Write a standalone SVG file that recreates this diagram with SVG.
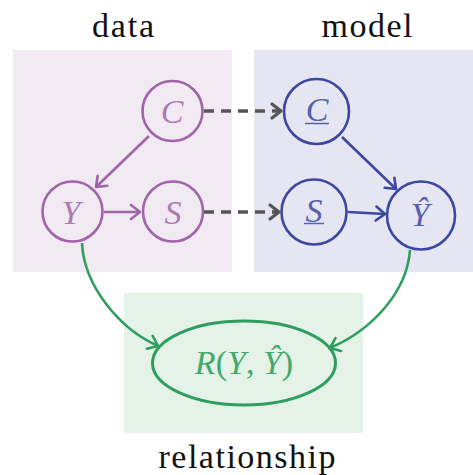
<svg xmlns="http://www.w3.org/2000/svg" width="473" height="475" viewBox="0 0 473 475">
<style>
.title{font-family:"Liberation Serif",serif;font-size:34px;fill:#111;text-anchor:middle}
.math{font-family:"Liberation Serif",serif;font-style:italic;font-size:34px;text-anchor:middle;dominant-baseline:central}
.up{font-style:normal}
.dn{fill:none;stroke:#A064A9;stroke-width:2.6}
.mn{fill:none;stroke:#3B47A0;stroke-width:2.6}
.dt{fill:#AD7AB4}
.mt{fill:#5560AE}
.de{stroke:#A064A9;stroke-width:2.6;fill:none}
.me{stroke:#3B47A0;stroke-width:2.6;fill:none}
.ge{stroke:#2E9E5E;stroke-width:2.6;fill:none}
.dash{stroke:#555;stroke-width:3.5;fill:none;stroke-dasharray:10 7}
</style>
<defs>
<marker id="ap" markerUnits="userSpaceOnUse" markerWidth="20" markerHeight="20" refX="0" refY="0" viewBox="-12 -10 14 20" orient="auto"><path d="M-9,-7 L0,0 L-9,7" fill="none" stroke="#A064A9" stroke-width="2.6" stroke-linejoin="round" stroke-linecap="round"/></marker>
<marker id="am" markerUnits="userSpaceOnUse" markerWidth="20" markerHeight="20" refX="0" refY="0" viewBox="-12 -10 14 20" orient="auto"><path d="M-9,-7 L0,0 L-9,7" fill="none" stroke="#3B47A0" stroke-width="2.6" stroke-linejoin="round" stroke-linecap="round"/></marker>
<marker id="ag" markerUnits="userSpaceOnUse" markerWidth="20" markerHeight="20" refX="0" refY="0" viewBox="-12 -10 14 20" orient="auto"><path d="M-9,-7 L0,0 L-9,7" fill="none" stroke="#2E9E5E" stroke-width="2.6" stroke-linejoin="round" stroke-linecap="round"/></marker>
<marker id="ak" markerUnits="userSpaceOnUse" markerWidth="20" markerHeight="20" refX="0" refY="0" viewBox="-12 -10 14 20" orient="auto"><path d="M-9,-7 L0,0 L-9,7" fill="none" stroke="#555" stroke-width="3.2" stroke-linejoin="round" stroke-linecap="round"/></marker>
</defs>
<rect width="473" height="475" fill="#fff"/>
<g id="panels">
<rect x="13" y="50" width="219" height="222" fill="#F2EAF3"/>
<rect x="254" y="50" width="219" height="222" fill="#E6E6F3"/>
<rect x="124" y="293" width="239" height="140" fill="#E4F2E8"/>
</g>
<g id="titles">
<text class="title" x="123" y="37" textLength="62" lengthAdjust="spacing">data</text>
<text class="title" x="367" y="37" textLength="91" lengthAdjust="spacing">model</text>
<text class="title" x="247" y="468" textLength="177" lengthAdjust="spacing">relationship</text>
</g>
<g id="connectors">
<line class="de" x1="149" y1="136" x2="96" y2="187" marker-end="url(#ap)"/>
<line class="de" x1="104" y1="212" x2="140" y2="212" marker-end="url(#ap)"/>
<line class="dash" x1="204" y1="111" x2="281" y2="111" marker-end="url(#ak)"/>
<line class="dash" x1="204" y1="212" x2="279" y2="212" marker-end="url(#ak)"/>
<line class="me" x1="342" y1="137" x2="396" y2="189" marker-end="url(#am)"/>
<line class="me" x1="348" y1="212" x2="385" y2="214" marker-end="url(#am)"/>
<path class="ge" d="M82,243 C84,285 118,328 158,346" marker-end="url(#ag)"/>
<path class="ge" d="M410,250 C407,292 372,330 330,348" marker-end="url(#ag)"/>
</g>
<g id="node-C">
<circle class="dn" cx="172.5" cy="111" r="30"/>
<text class="math dt" x="172" y="111">C</text>
</g>
<g id="node-Y">
<circle class="dn" cx="72.5" cy="211.5" r="30"/>
<text class="math dt" x="71" y="212">Y</text>
</g>
<g id="node-S">
<circle class="dn" cx="173" cy="211.5" r="30"/>
<text class="math dt" x="173" y="212">S</text>
</g>
<g id="node-C-model">
<circle class="mn" cx="316.5" cy="111.5" r="32.5"/>
<text class="math mt" x="317" y="109">C</text>
<line x1="305" y1="123.5" x2="329" y2="123.5" stroke="#5560AE" stroke-width="1.5"/>
</g>
<g id="node-S-model">
<circle class="mn" cx="314" cy="212" r="32.5"/>
<text class="math mt" x="314" y="210">S</text>
<line x1="304" y1="223.5" x2="324" y2="223.5" stroke="#5560AE" stroke-width="1.5"/>
</g>
<g id="node-Yhat">
<circle class="mn" cx="421" cy="215.5" r="34"/>
<text class="math mt" x="420" y="214">Ŷ</text>
</g>
<g id="node-R">
<ellipse cx="244" cy="363" rx="91.5" ry="42" fill="none" stroke="#2E9E5E" stroke-width="3"/>
<text class="math" x="244" y="362" fill="#45A86C">R<tspan class="up">(</tspan>Y<tspan class="up">, </tspan>Ŷ<tspan class="up">)</tspan></text>
</g>
</svg>
